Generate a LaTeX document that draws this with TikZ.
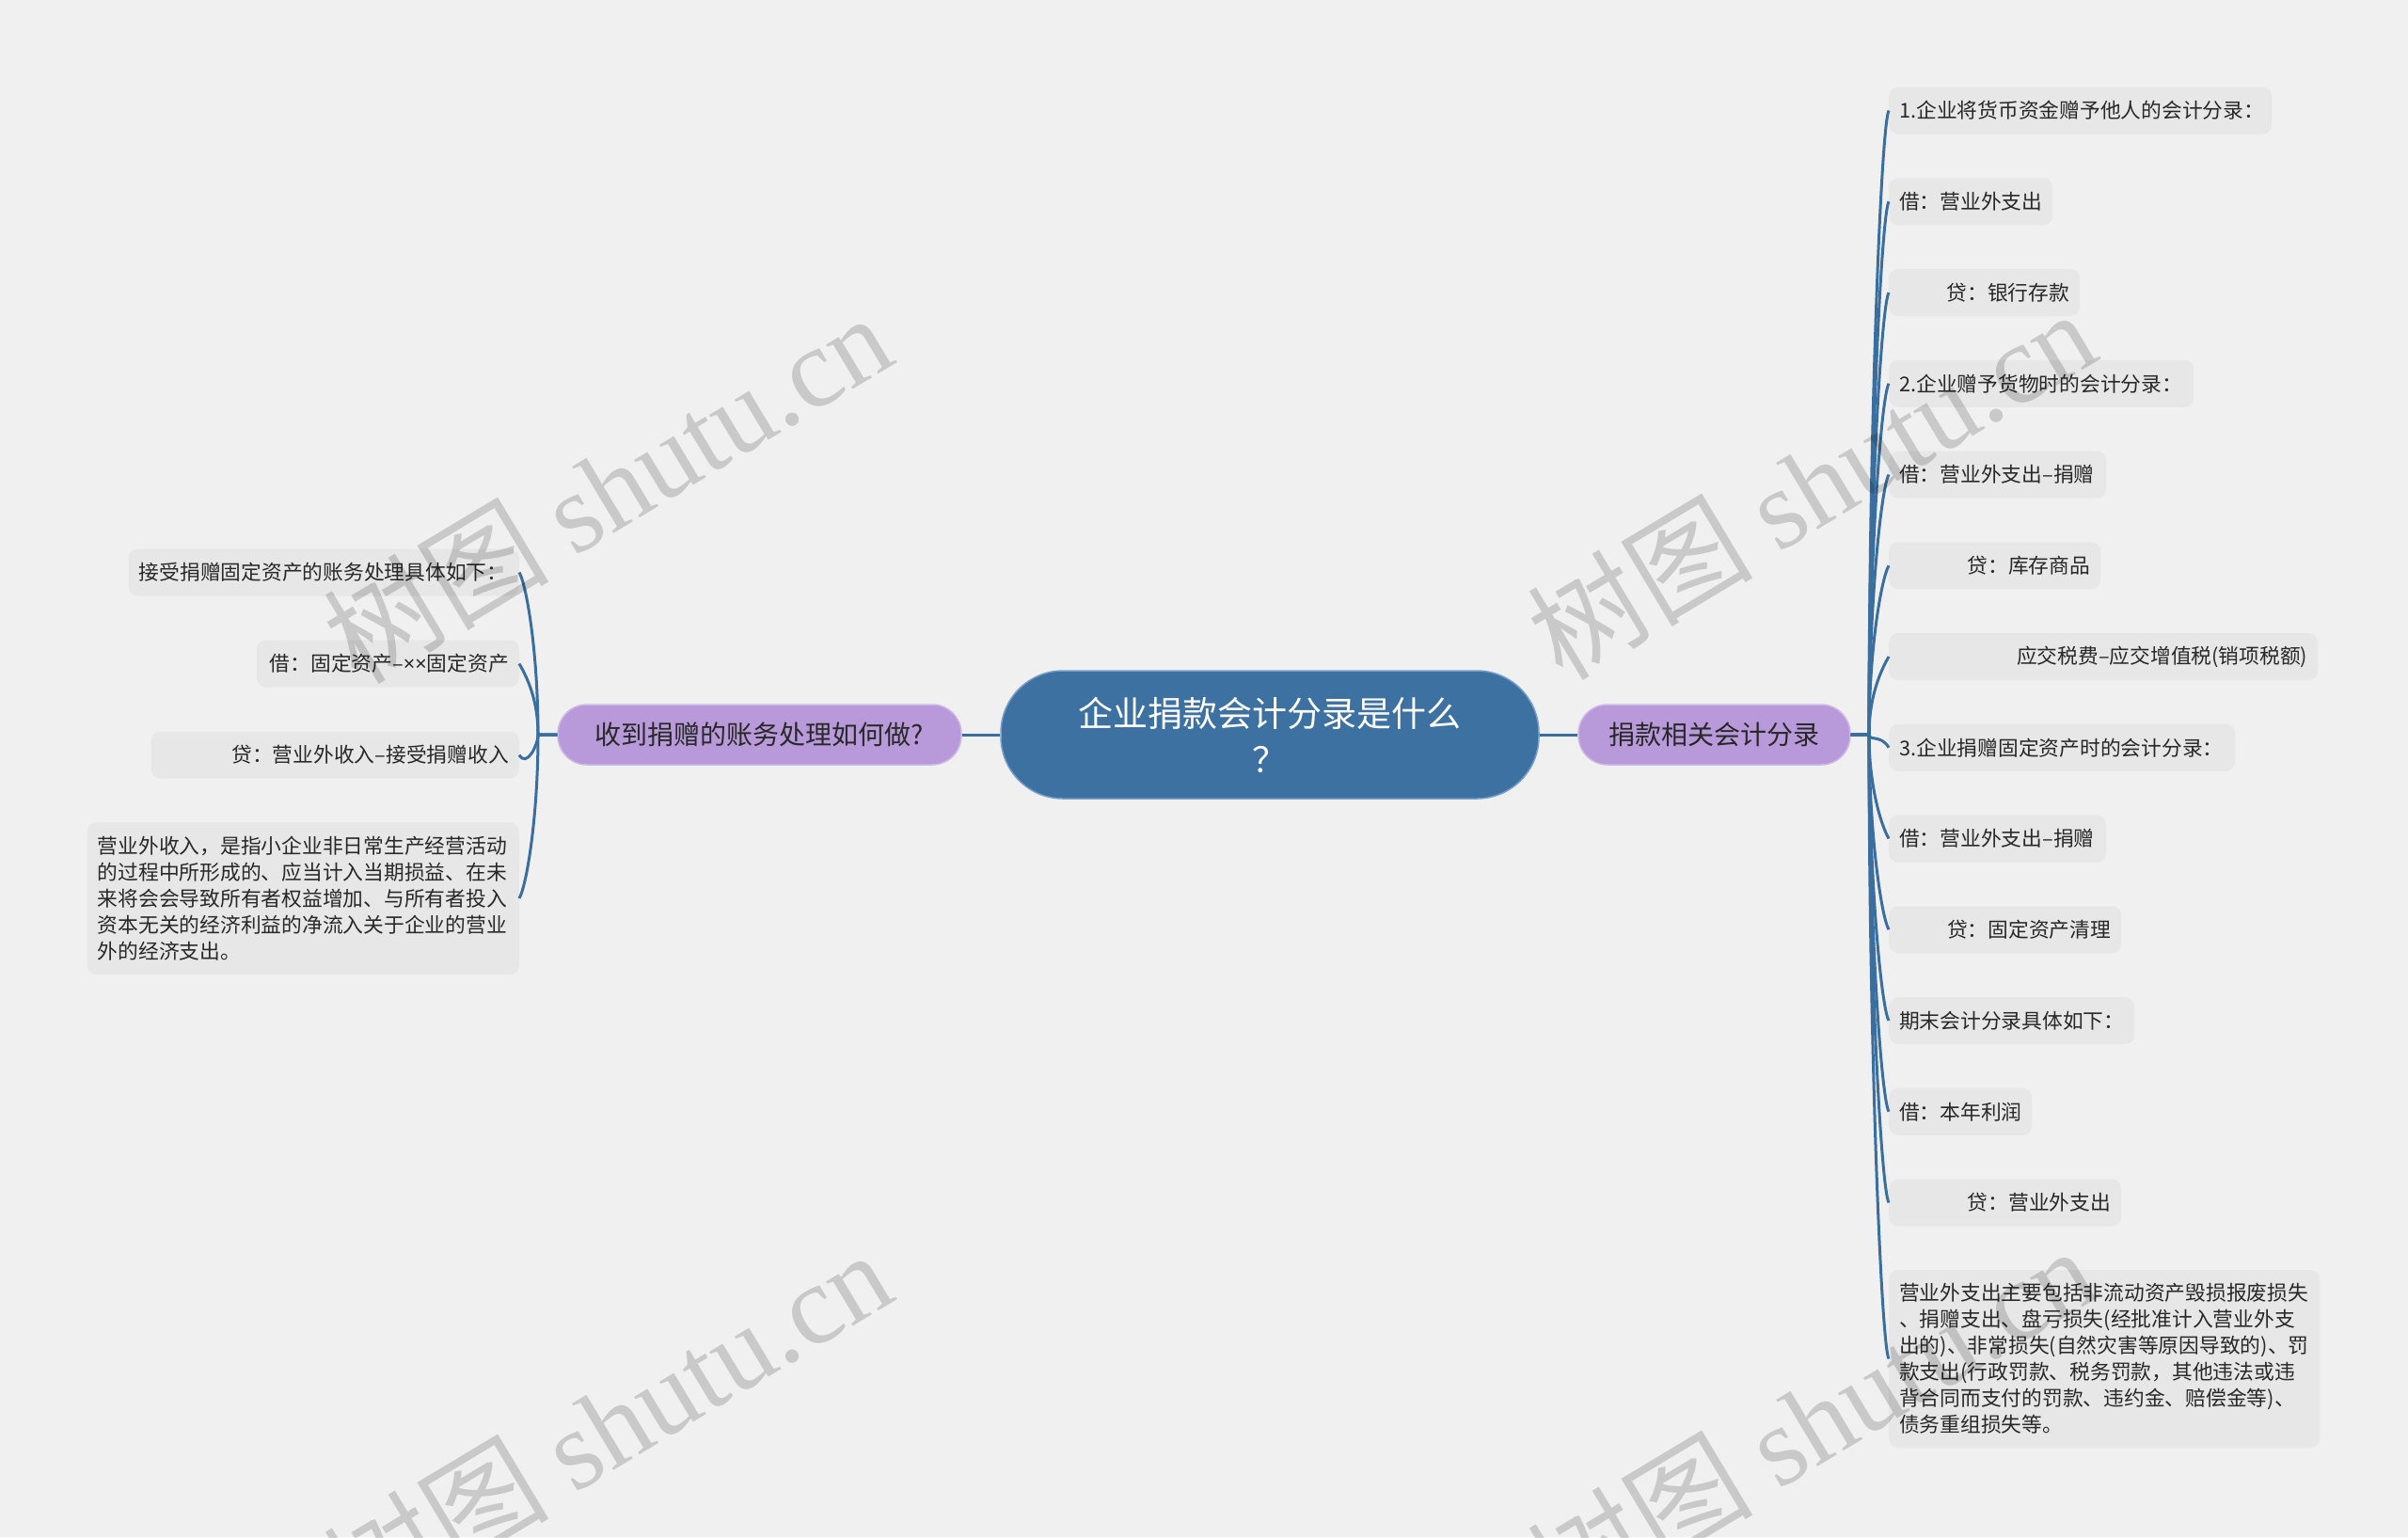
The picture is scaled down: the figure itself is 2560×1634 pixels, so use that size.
\documentclass[tikz,border=0pt]{standalone}
\usepackage{fontspec}
\setmainfont{Noto Sans CJK SC}
\newfontfamily\wmlatin{Liberation Serif}
\newfontfamily\wmcjk{Noto Sans CJK SC}
\newfontfamily\latsans{Noto Sans}
\usetikzlibrary{calc}
\definecolor{bgc}{RGB}{240,240,240}
\definecolor{boxc}{RGB}{231,231,231}
\definecolor{mainc}{RGB}{60,113,162}
\definecolor{mainedge}{RGB}{120,160,200}
\definecolor{linec}{RGB}{58,110,158}
\definecolor{purc}{RGB}{184,154,218}
\definecolor{puredge}{RGB}{205,185,230}
\definecolor{txtc}{RGB}{40,40,40}
\newcommand\rconn[2]{\draw[conn] (pr.east) -- (jr) .. controls ($(jr)!0.5!(jr|-#1.west)$) and ($(#1.west)+(-8,#2)$) .. (#1.west);}
\newcommand\lconn[2]{\draw[conn] (pl.west) -- (jl) .. controls ($(jl)!0.5!(jl|-#1.east)$) and ($(#1.east)+(8,#2)$) .. (#1.east);}
\begin{document}
\begin{tikzpicture}[x=1pt,y=-1pt,
  conn/.style={draw=linec,line width=3pt},
  leaf/.style={fill=boxc,rounded corners=10pt,inner xsep=11pt,inner ysep=0pt,minimum height=50pt,text=txtc,font=\fontsize{21.75}{28}\selectfont},
  leafL/.style={leaf,text width=#1,align=left},
  leafR/.style={leaf,text width=#1,align=right},
  branch/.style={fill=purc,draw=puredge,line width=1.5pt,rounded corners=31pt,minimum height=64pt,inner sep=0pt,text=txtc,font=\fontsize{28}{34}\selectfont},
  wm/.style={rotate=31,text=black,opacity=0.16,inner sep=0pt,font=\fontsize{120}{120}\selectfont}
]
\useasboundingbox[fill=bgc] (0,0) rectangle (2560,1634);

% central
\node[fill=mainc,draw=mainedge,line width=1.5pt,rounded corners=66pt,minimum width=572pt,minimum height=136pt,inner sep=0pt,text=white,align=center,font=\fontsize{37}{49}\selectfont] (c) at (1350,781) {企业捐款会计分录是什么\\？};

% branches
\node[branch,minimum width=289pt] (pr) at (1822.5,781) {捐款相关会计分录};
\node[branch,minimum width=429pt] (pl) at (807.5,781) {收到捐赠的账务处理如何做?};

\draw[conn] (c.east) -- (pr.west);
\draw[conn] (c.west) -- (pl.east);

\coordinate (jr) at (1987,781);
\coordinate (jl) at (572,781);

% right leaves
\node[leafL=385,anchor=west] (r1) at (2008,117.5) {1.企业将货币资金赠予他人的会计分录：};
\node[leafL=152,anchor=west] (r2) at (2008,214.25) {借：营业外支出};
\node[leafR=181,anchor=west] (r3) at (2008,311) {贷：银行存款};
\node[leafL=302,anchor=west] (r4) at (2008,407.75) {2.企业赠予货物时的会计分录：};
\node[leafL=209,anchor=west] (r5) at (2008,504.5) {借：营业外支出–捐赠};
\node[leafR=203,anchor=west] (r6) at (2008,601.25) {贷：库存商品};
\node[leafR=434,anchor=west] (r7) at (2008,698) {应交税费–应交增值税(销项税额)};
\node[leafL=346,anchor=west] (r8) at (2008,794.75) {3.企业捐赠固定资产时的会计分录：};
\node[leafL=209,anchor=west] (r9) at (2008,891.5) {借：营业外支出–捐赠};
\node[leafR=225,anchor=west] (r10) at (2008,988.25) {贷：固定资产清理};
\node[leafL=239,anchor=west] (r11) at (2008,1085) {期末会计分录具体如下：};
\node[leafL=130,anchor=west] (r12) at (2008,1181.75) {借：本年利润};
\node[leafR=225,anchor=west] (r13) at (2008,1278.5) {贷：营业外支出};
\node[leafL=436,anchor=west,minimum height=189pt] (r14) at (2008,1444.5) {营业外支出主要包括非流动资产毁损报废损失\\、捐赠支出、盘亏损失(经批准计入营业外支\\出的)、非常损失(自然灾害等原因导致的)、罚\\款支出(行政罚款、税务罚款，其他违法或违\\背合同而支付的罚款、违约金、赔偿金等)、\\债务重组损失等。};

% left leaves
\node[leafL=393,anchor=east] (l1) at (552,608.5) {接受捐赠固定资产的账务处理具体如下：};
\node[leafR=257,anchor=east] (l2) at (552,705.5) {\mbox{借：固定资产–{\latsans ××}固定资产}};
\node[leafR=369,anchor=east] (l3) at (552,802.5) {贷：营业外收入–接受捐赠收入};
\node[leafL=437,anchor=east,minimum height=162pt] (l4) at (552,955) {营业外收入，是指小企业非日常生产经营活动\\的过程中所形成的、应当计入当期损益、在未\\来将会会导致所有者权益增加、与所有者投入\\资本无关的经济利益的净流入关于企业的营业\\外的经济支出。};

% connectors right
\rconn{r1}{14}
\rconn{r2}{14}
\rconn{r3}{14}
\rconn{r4}{14}
\rconn{r5}{14}
\rconn{r6}{14}
\rconn{r7}{14}
\rconn{r8}{-14}
\rconn{r9}{-14}
\rconn{r10}{-14}
\rconn{r11}{-14}
\rconn{r12}{-14}
\rconn{r13}{-14}
\rconn{r14}{-14}

% connectors left
\lconn{l1}{14}
\lconn{l2}{14}
\lconn{l3}{14}
\lconn{l4}{-14}

% watermarks
\node[wm] (wm1) at (645,518) {\wmcjk 树图 \wmlatin shutu.cn};
\node[wm] (wm2) at (1925,514) {\wmcjk 树图 \wmlatin shutu.cn};
\node[wm] (wm3) at (645,1514) {\wmcjk 树图 \wmlatin shutu.cn};
\node[wm] (wm4) at (1925,1510) {\wmcjk 树图 \wmlatin shutu.cn};
\end{tikzpicture}
\end{document}
